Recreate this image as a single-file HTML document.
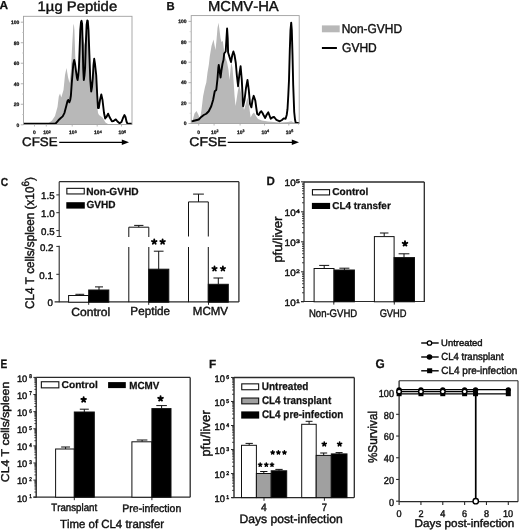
<!DOCTYPE html>
<html><head><meta charset="utf-8"><style>
html,body{margin:0;padding:0;background:#fff;overflow:hidden;}
svg{display:block;will-change:transform;}
text{text-rendering:geometricPrecision;font-kerning:none;font-family:"Liberation Sans", sans-serif;fill:#111;stroke:#111;stroke-width:0.42px;}
text[font-weight=bold]{stroke-width:0.25px;}
</style></head><body>
<svg width="520" height="530" viewBox="0 0 520 530">
<rect width="520" height="530" fill="#fff"/>
<text x="-0.50" y="9.30" font-size="11.63" font-weight="bold" textLength="8.61" lengthAdjust="spacingAndGlyphs" stroke-width="0.4">A</text>
<text x="37.57" y="10.60" font-size="13.95" textLength="79.59" lengthAdjust="spacingAndGlyphs" stroke-width="0.08">1µg Peptide</text>
<polygon points="23.50,124.50 45.00,124.30 48.00,123.50 52.00,120.50 55.00,116.00 57.50,107.00 58.80,96.50 60.00,93.50 61.30,97.50 63.50,90.00 65.00,75.00 66.50,68.00 68.00,77.00 69.50,83.00 70.80,72.00 72.20,45.00 73.30,26.00 73.80,23.70 74.40,30.00 75.20,55.00 76.20,72.00 77.30,80.00 78.50,72.00 79.50,52.00 80.50,35.00 81.50,30.00 82.50,33.00 83.50,40.00 84.50,45.00 85.50,38.00 86.50,32.00 87.50,30.00 88.50,38.00 89.50,55.00 90.30,78.00 91.20,93.00 92.20,88.00 93.20,75.00 94.20,68.00 95.20,72.00 96.20,85.00 97.20,105.00 98.00,113.00 99.00,115.00 100.50,116.00 102.50,117.50 104.00,120.00 105.50,122.50 108.00,124.00 132.00,124.50" fill="#b8b8b8" stroke="none" stroke-width="1" stroke-linejoin="round"/>
<polyline points="23.50,123.80 54.00,123.80 56.00,123.20 58.40,120.30 60.50,118.30 62.70,116.40 64.50,112.80 66.40,105.40 67.50,101.00 68.20,99.90 69.40,102.30 70.20,100.00 70.90,95.50 71.70,84.00 72.50,74.00 73.30,64.00 74.20,60.00 75.10,64.00 76.00,71.00 77.00,78.00 77.60,80.00 78.30,75.00 78.90,68.00 79.60,50.00 80.30,30.00 81.00,22.00 81.50,20.80 82.10,24.00 82.70,45.00 83.20,68.00 83.80,80.00 84.50,75.00 85.10,68.00 85.80,45.00 86.60,25.00 87.30,20.50 87.80,21.00 88.50,30.00 89.40,55.00 90.30,80.00 91.20,91.50 92.00,87.00 92.80,78.00 93.50,65.00 94.20,58.80 95.00,64.00 96.20,75.00 97.20,95.00 98.00,108.00 98.80,108.00 100.00,100.00 101.30,94.40 102.50,100.00 104.00,113.00 105.20,118.50 106.50,117.00 108.10,113.70 109.50,117.00 111.90,121.30 113.50,121.00 115.80,119.40 117.50,121.50 119.60,123.30 121.50,122.00 123.00,118.00 124.40,115.10 125.50,117.00 126.50,121.50 127.30,123.30 129.00,123.80 132.00,123.80" fill="none" stroke="#000" stroke-width="1.9" stroke-linejoin="round"/>
<rect x="23.50" y="16.30" width="108.50" height="108.20" fill="none" stroke="#a0a0a0" stroke-width="0.9"/>
<line x1="20.80" y1="124.80" x2="23.50" y2="124.80" stroke="#a0a0a0" stroke-width="0.8"/>
<text x="19.40" y="126.60" font-size="5.00" text-anchor="end" font-weight="bold" stroke-width="0.3">0</text>
<line x1="22.00" y1="114.54" x2="23.50" y2="114.54" stroke="#c4c4c4" stroke-width="0.7"/>
<line x1="20.80" y1="104.28" x2="23.50" y2="104.28" stroke="#a0a0a0" stroke-width="0.8"/>
<text x="19.40" y="106.08" font-size="5.00" text-anchor="end" font-weight="bold" stroke-width="0.3">20</text>
<line x1="22.00" y1="94.02" x2="23.50" y2="94.02" stroke="#c4c4c4" stroke-width="0.7"/>
<line x1="20.80" y1="83.76" x2="23.50" y2="83.76" stroke="#a0a0a0" stroke-width="0.8"/>
<text x="19.40" y="85.56" font-size="5.00" text-anchor="end" font-weight="bold" stroke-width="0.3">40</text>
<line x1="22.00" y1="73.50" x2="23.50" y2="73.50" stroke="#c4c4c4" stroke-width="0.7"/>
<line x1="20.80" y1="63.24" x2="23.50" y2="63.24" stroke="#a0a0a0" stroke-width="0.8"/>
<text x="19.40" y="65.04" font-size="5.00" text-anchor="end" font-weight="bold" stroke-width="0.3">60</text>
<line x1="22.00" y1="52.98" x2="23.50" y2="52.98" stroke="#c4c4c4" stroke-width="0.7"/>
<line x1="20.80" y1="42.72" x2="23.50" y2="42.72" stroke="#a0a0a0" stroke-width="0.8"/>
<text x="19.40" y="44.52" font-size="5.00" text-anchor="end" font-weight="bold" stroke-width="0.3">80</text>
<line x1="22.00" y1="32.46" x2="23.50" y2="32.46" stroke="#c4c4c4" stroke-width="0.7"/>
<line x1="20.80" y1="22.20" x2="23.50" y2="22.20" stroke="#a0a0a0" stroke-width="0.8"/>
<text x="19.40" y="24.00" font-size="5.00" text-anchor="end" font-weight="bold" stroke-width="0.3">100</text>
<line x1="34.50" y1="124.50" x2="34.50" y2="126.50" stroke="#aaa" stroke-width="0.8"/>
<text x="33.10" y="134.40" font-size="5.00" font-weight="bold" stroke-width="0.3">0</text>
<line x1="46.30" y1="124.50" x2="46.30" y2="126.50" stroke="#aaa" stroke-width="0.8"/>
<text x="43.20" y="134.40" font-size="5.00" font-weight="bold" stroke-width="0.3">10<tspan font-size="3.6" dy="-1.8">2</tspan></text>
<line x1="72.20" y1="124.50" x2="72.20" y2="126.50" stroke="#aaa" stroke-width="0.8"/>
<text x="69.10" y="134.40" font-size="5.00" font-weight="bold" stroke-width="0.3">10<tspan font-size="3.6" dy="-1.8">3</tspan></text>
<line x1="97.20" y1="124.50" x2="97.20" y2="126.50" stroke="#aaa" stroke-width="0.8"/>
<text x="94.10" y="134.40" font-size="5.00" font-weight="bold" stroke-width="0.3">10<tspan font-size="3.6" dy="-1.8">4</tspan></text>
<line x1="121.50" y1="124.50" x2="121.50" y2="126.50" stroke="#aaa" stroke-width="0.8"/>
<text x="118.40" y="134.40" font-size="5.00" font-weight="bold" stroke-width="0.3">10<tspan font-size="3.6" dy="-1.8">5</tspan></text>
<text x="22.13" y="146.20" font-size="12.50" textLength="35.45" lengthAdjust="spacingAndGlyphs" stroke-width="0.2">CFSE</text>
<line x1="59.20" y1="142.30" x2="123.00" y2="142.30" stroke="#000" stroke-width="1.3"/>
<polygon points="121.80,139.60 129.00,142.30 121.80,145.00" fill="#000" stroke="none" stroke-width="1" stroke-linejoin="round"/>
<text x="166.44" y="9.50" font-size="11.63" font-weight="bold" textLength="8.17" lengthAdjust="spacingAndGlyphs" stroke-width="0.4">B</text>
<text x="207.99" y="10.50" font-size="14.39" textLength="70.74" lengthAdjust="spacingAndGlyphs" stroke-width="0.08">MCMV-HA</text>
<polygon points="191.20,123.50 192.50,121.00 194.50,113.50 196.50,111.00 198.50,115.00 200.00,118.70 201.50,110.00 203.10,96.30 205.00,87.00 206.30,82.50 207.50,72.50 208.80,65.00 209.80,56.30 211.50,46.00 213.50,39.50 214.50,45.00 215.50,50.00 216.50,40.00 217.50,28.00 218.50,22.70 219.50,30.00 220.50,38.00 221.50,42.00 222.80,41.00 224.00,50.00 225.50,58.00 227.00,62.00 228.50,70.00 229.50,80.00 230.50,70.00 231.20,62.00 232.50,68.00 233.50,80.00 234.50,95.00 235.50,106.00 236.50,100.00 238.00,90.00 239.40,85.00 240.80,92.00 242.50,103.00 244.00,110.00 245.50,105.00 247.50,97.50 249.00,105.00 250.60,117.50 252.50,114.00 254.00,112.50 256.00,116.00 258.00,119.00 262.00,120.50 268.00,121.50 280.00,122.50 288.00,122.00 291.30,121.30 294.00,122.50 299.20,123.50" fill="#b8b8b8" stroke="none" stroke-width="1" stroke-linejoin="round"/>
<polyline points="191.20,121.40 193.00,121.00 195.00,120.50 198.75,119.50 201.25,116.90 203.75,115.00 206.25,113.75 208.75,111.25 211.25,106.25 213.10,100.00 214.75,91.25 216.25,90.00 217.50,78.75 218.30,68.00 218.75,65.00 219.50,70.00 220.60,77.50 221.50,70.00 222.50,63.75 223.50,60.00 224.20,53.50 225.70,51.50 226.50,38.00 227.10,28.50 227.70,38.00 228.10,52.50 229.50,57.00 231.00,62.00 232.30,55.00 233.40,51.50 234.50,55.00 235.80,63.00 236.80,75.00 238.10,86.25 239.30,75.00 240.60,66.25 241.80,80.00 243.10,106.25 244.50,100.00 246.00,88.00 247.50,80.00 248.80,90.00 250.00,104.00 251.40,107.30 252.50,100.00 253.70,95.80 255.30,100.60 256.30,108.00 257.20,114.00 258.70,115.00 260.00,112.50 261.30,111.20 262.50,113.00 263.50,115.00 265.20,117.90 266.80,114.50 268.30,112.30 269.50,115.50 270.70,118.80 272.30,117.50 274.00,116.90 275.30,118.50 276.40,119.80 279.80,121.30 282.00,120.00 283.70,118.40 285.60,118.80 286.70,115.00 287.50,109.20 288.30,95.00 289.00,80.00 289.80,50.00 290.50,30.00 291.20,22.70 291.80,30.00 292.50,55.00 293.20,85.00 294.20,112.00 295.00,119.50 295.70,122.70 299.20,123.20" fill="none" stroke="#000" stroke-width="1.9" stroke-linejoin="round"/>
<rect x="191.20" y="15.60" width="108.00" height="107.90" fill="none" stroke="#a0a0a0" stroke-width="0.9"/>
<line x1="188.50" y1="123.50" x2="191.20" y2="123.50" stroke="#a0a0a0" stroke-width="0.8"/>
<text x="186.60" y="125.30" font-size="5.00" text-anchor="end" font-weight="bold" stroke-width="0.3">0</text>
<line x1="189.70" y1="113.29" x2="191.20" y2="113.29" stroke="#c4c4c4" stroke-width="0.7"/>
<line x1="188.50" y1="103.08" x2="191.20" y2="103.08" stroke="#a0a0a0" stroke-width="0.8"/>
<text x="186.60" y="104.88" font-size="5.00" text-anchor="end" font-weight="bold" stroke-width="0.3">20</text>
<line x1="189.70" y1="92.87" x2="191.20" y2="92.87" stroke="#c4c4c4" stroke-width="0.7"/>
<line x1="188.50" y1="82.66" x2="191.20" y2="82.66" stroke="#a0a0a0" stroke-width="0.8"/>
<text x="186.60" y="84.46" font-size="5.00" text-anchor="end" font-weight="bold" stroke-width="0.3">40</text>
<line x1="189.70" y1="72.45" x2="191.20" y2="72.45" stroke="#c4c4c4" stroke-width="0.7"/>
<line x1="188.50" y1="62.24" x2="191.20" y2="62.24" stroke="#a0a0a0" stroke-width="0.8"/>
<text x="186.60" y="64.04" font-size="5.00" text-anchor="end" font-weight="bold" stroke-width="0.3">60</text>
<line x1="189.70" y1="52.03" x2="191.20" y2="52.03" stroke="#c4c4c4" stroke-width="0.7"/>
<line x1="188.50" y1="41.82" x2="191.20" y2="41.82" stroke="#a0a0a0" stroke-width="0.8"/>
<text x="186.60" y="43.62" font-size="5.00" text-anchor="end" font-weight="bold" stroke-width="0.3">80</text>
<line x1="189.70" y1="31.61" x2="191.20" y2="31.61" stroke="#c4c4c4" stroke-width="0.7"/>
<line x1="188.50" y1="21.40" x2="191.20" y2="21.40" stroke="#a0a0a0" stroke-width="0.8"/>
<text x="186.60" y="23.20" font-size="5.00" text-anchor="end" font-weight="bold" stroke-width="0.3">100</text>
<line x1="198.70" y1="123.50" x2="198.70" y2="125.50" stroke="#aaa" stroke-width="0.8"/>
<text x="197.30" y="134.00" font-size="5.00" font-weight="bold" stroke-width="0.3">0</text>
<line x1="214.10" y1="123.50" x2="214.10" y2="125.50" stroke="#aaa" stroke-width="0.8"/>
<text x="211.00" y="134.00" font-size="5.00" font-weight="bold" stroke-width="0.3">10<tspan font-size="3.6" dy="-1.8">2</tspan></text>
<line x1="240.10" y1="123.50" x2="240.10" y2="125.50" stroke="#aaa" stroke-width="0.8"/>
<text x="237.00" y="134.00" font-size="5.00" font-weight="bold" stroke-width="0.3">10<tspan font-size="3.6" dy="-1.8">3</tspan></text>
<line x1="264.50" y1="123.50" x2="264.50" y2="125.50" stroke="#aaa" stroke-width="0.8"/>
<text x="261.40" y="134.00" font-size="5.00" font-weight="bold" stroke-width="0.3">10<tspan font-size="3.6" dy="-1.8">4</tspan></text>
<line x1="288.80" y1="123.50" x2="288.80" y2="125.50" stroke="#aaa" stroke-width="0.8"/>
<text x="285.70" y="134.00" font-size="5.00" font-weight="bold" stroke-width="0.3">10<tspan font-size="3.6" dy="-1.8">5</tspan></text>
<text x="189.29" y="145.70" font-size="12.65" textLength="37.31" lengthAdjust="spacingAndGlyphs" stroke-width="0.08">CFSE</text>
<line x1="227.70" y1="142.30" x2="292.50" y2="142.30" stroke="#000" stroke-width="1.3"/>
<polygon points="291.80,139.60 299.00,142.30 291.80,145.00" fill="#000" stroke="none" stroke-width="1" stroke-linejoin="round"/>
<rect x="321.90" y="25.40" width="17.80" height="6.90" fill="#b8b8b8" stroke="none" stroke-width="0"/>
<text x="341.72" y="33.00" font-size="12.79" textLength="60.35" lengthAdjust="spacingAndGlyphs" stroke-width="0.08">Non-GVHD</text>
<line x1="321.90" y1="48.00" x2="336.90" y2="48.00" stroke="#000" stroke-width="2"/>
<text x="342.10" y="51.50" font-size="12.79" textLength="34.68" lengthAdjust="spacingAndGlyphs" stroke-width="0.08">GVHD</text>
<text x="0.68" y="185.60" font-size="11.63" font-weight="bold" textLength="7.40" lengthAdjust="spacingAndGlyphs" stroke-width="0.4">C</text>
<line x1="59.20" y1="181.70" x2="238.90" y2="181.70" stroke="#2a2a2a" stroke-width="1.25"/>
<line x1="238.90" y1="181.70" x2="238.90" y2="302.00" stroke="#2a2a2a" stroke-width="1.3"/>
<line x1="54.60" y1="301.90" x2="238.90" y2="301.90" stroke="#2a2a2a" stroke-width="1.25"/>
<line x1="59.20" y1="181.70" x2="59.20" y2="236.50" stroke="#2a2a2a" stroke-width="1.1"/>
<line x1="59.20" y1="245.80" x2="59.20" y2="302.20" stroke="#2a2a2a" stroke-width="1.1"/>
<line x1="56.80" y1="236.50" x2="61.40" y2="236.50" stroke="#2a2a2a" stroke-width="1"/>
<line x1="56.30" y1="194.90" x2="59.20" y2="194.90" stroke="#2a2a2a" stroke-width="1"/>
<text x="41.12" y="199.20" font-size="9.70" textLength="13.48" lengthAdjust="spacingAndGlyphs" stroke-width="0.36">1.5</text>
<line x1="56.30" y1="212.70" x2="59.20" y2="212.70" stroke="#2a2a2a" stroke-width="1"/>
<text x="41.09" y="217.00" font-size="9.70" textLength="13.48" lengthAdjust="spacingAndGlyphs" stroke-width="0.36">1.0</text>
<line x1="56.30" y1="230.60" x2="59.20" y2="230.60" stroke="#2a2a2a" stroke-width="1"/>
<text x="41.12" y="234.90" font-size="9.70" textLength="13.48" lengthAdjust="spacingAndGlyphs" stroke-width="0.36">0.5</text>
<line x1="56.30" y1="246.40" x2="59.20" y2="246.40" stroke="#2a2a2a" stroke-width="1"/>
<text x="39.90" y="250.70" font-size="9.70" textLength="13.48" lengthAdjust="spacingAndGlyphs" stroke-width="0.36">0.2</text>
<line x1="56.30" y1="274.30" x2="59.20" y2="274.30" stroke="#2a2a2a" stroke-width="1"/>
<text x="39.39" y="278.60" font-size="9.70" textLength="13.48" lengthAdjust="spacingAndGlyphs" stroke-width="0.36">0.1</text>
<text x="47.58" y="306.30" font-size="9.70" textLength="5.39" lengthAdjust="spacingAndGlyphs" stroke-width="0.36">0</text>
<line x1="88.70" y1="302.20" x2="88.70" y2="304.80" stroke="#2a2a2a" stroke-width="1"/>
<line x1="148.70" y1="302.20" x2="148.70" y2="304.80" stroke="#2a2a2a" stroke-width="1"/>
<line x1="208.50" y1="302.20" x2="208.50" y2="304.80" stroke="#2a2a2a" stroke-width="1"/>
<line x1="79.80" y1="295.50" x2="79.80" y2="294.30" stroke="#111" stroke-width="1"/>
<line x1="75.40" y1="294.30" x2="84.20" y2="294.30" stroke="#111" stroke-width="1"/>
<line x1="99.00" y1="290.00" x2="99.00" y2="286.90" stroke="#111" stroke-width="1"/>
<line x1="95.00" y1="286.90" x2="103.00" y2="286.90" stroke="#111" stroke-width="1"/>
<line x1="138.80" y1="227.20" x2="138.80" y2="225.40" stroke="#111" stroke-width="1"/>
<line x1="134.15" y1="225.40" x2="143.45" y2="225.40" stroke="#111" stroke-width="1"/>
<line x1="158.70" y1="269.20" x2="158.70" y2="251.20" stroke="#111" stroke-width="1"/>
<line x1="153.85" y1="251.20" x2="163.55" y2="251.20" stroke="#111" stroke-width="1"/>
<line x1="198.50" y1="201.90" x2="198.50" y2="194.10" stroke="#111" stroke-width="1"/>
<line x1="193.10" y1="194.10" x2="203.90" y2="194.10" stroke="#111" stroke-width="1"/>
<line x1="218.30" y1="284.30" x2="218.30" y2="278.00" stroke="#111" stroke-width="1"/>
<line x1="213.45" y1="278.00" x2="223.15" y2="278.00" stroke="#111" stroke-width="1"/>
<rect x="68.60" y="295.50" width="20.10" height="6.70" fill="#fff" stroke="#111" stroke-width="1"/>
<rect x="88.70" y="290.00" width="20.10" height="12.20" fill="#000" stroke="#111" stroke-width="1"/>
<path d="M128.8,237 V227.2 H148.8 V237 M128.8,247 V302.2 M148.8,247 V302.2" fill="none" stroke="#111" stroke-width="1"/>
<rect x="148.80" y="269.20" width="20.00" height="33.00" fill="#000" stroke="#111" stroke-width="1"/>
<path d="M188.5,236.5 V201.9 H208.3 V236.5 M188.5,247 V302.2 M208.3,247 V302.2" fill="none" stroke="#111" stroke-width="1"/>
<rect x="208.30" y="284.30" width="20.00" height="17.90" fill="#000" stroke="#111" stroke-width="1"/>
<path d="M154.25,241.80L154.25,239.42M154.25,241.80L156.51,241.07M154.25,241.80L155.65,243.72M154.25,241.80L152.85,243.72M154.25,241.80L151.99,241.07" stroke="#000" stroke-width="1.85" stroke-linecap="round" fill="none"/>
<path d="M162.60,241.80L162.60,239.42M162.60,241.80L164.86,241.07M162.60,241.80L164.00,243.72M162.60,241.80L161.20,243.72M162.60,241.80L160.34,241.07" stroke="#000" stroke-width="1.85" stroke-linecap="round" fill="none"/>
<path d="M214.50,268.70L214.50,266.40M214.50,268.70L216.69,267.99M214.50,268.70L215.85,270.56M214.50,268.70L213.15,270.56M214.50,268.70L212.31,267.99" stroke="#000" stroke-width="1.79" stroke-linecap="round" fill="none"/>
<path d="M222.90,268.70L222.90,266.40M222.90,268.70L225.09,267.99M222.90,268.70L224.25,270.56M222.90,268.70L221.55,270.56M222.90,268.70L220.71,267.99" stroke="#000" stroke-width="1.79" stroke-linecap="round" fill="none"/>
<text x="71.29" y="315.60" font-size="11.77" textLength="38.92" lengthAdjust="spacingAndGlyphs" stroke-width="0.2">Control</text>
<text x="130.34" y="315.30" font-size="11.77" textLength="39.68" lengthAdjust="spacingAndGlyphs" stroke-width="0.2">Peptide</text>
<text x="192.86" y="315.30" font-size="11.77" textLength="35.20" lengthAdjust="spacingAndGlyphs" stroke-width="0.2">MCMV</text>
<rect x="66.85" y="188.35" width="17.40" height="5.60" fill="#fff" stroke="#111" stroke-width="1.1"/>
<text x="86.22" y="194.50" font-size="10.32" font-weight="bold" textLength="52.40" lengthAdjust="spacingAndGlyphs" stroke-width="0.25">Non-GVHD</text>
<rect x="66.30" y="202.20" width="18.50" height="6.40" fill="#000" stroke="none" stroke-width="1"/>
<text x="86.49" y="208.30" font-size="10.32" font-weight="bold" textLength="29.03" lengthAdjust="spacingAndGlyphs" stroke-width="0.25">GVHD</text>
<text x="33.5" y="309" font-size="12.5" transform="rotate(-90 33.5 309)" textLength="131.8" lengthAdjust="spacingAndGlyphs">CL4 T cells/spleen (x10<tspan font-size="10.5" dy="-4.2">6</tspan><tspan dy="4.2">)</tspan></text>
<text x="266.53" y="185.40" font-size="11.92" font-weight="bold" textLength="8.36" lengthAdjust="spacingAndGlyphs" stroke-width="0.4">D</text>
<line x1="304.00" y1="182.00" x2="424.30" y2="182.00" stroke="#2a2a2a" stroke-width="1.3"/>
<line x1="424.30" y1="182.00" x2="424.30" y2="302.00" stroke="#2a2a2a" stroke-width="1.3"/>
<line x1="304.00" y1="181.80" x2="304.00" y2="302.00" stroke="#2a2a2a" stroke-width="1.2"/>
<line x1="301.00" y1="301.50" x2="424.30" y2="301.50" stroke="#2a2a2a" stroke-width="1.2"/>
<line x1="301.00" y1="301.80" x2="304.00" y2="301.80" stroke="#2a2a2a" stroke-width="1"/>
<line x1="302.00" y1="292.77" x2="304.00" y2="292.77" stroke="#2a2a2a" stroke-width="0.9"/>
<line x1="302.00" y1="287.49" x2="304.00" y2="287.49" stroke="#2a2a2a" stroke-width="0.9"/>
<line x1="302.00" y1="283.74" x2="304.00" y2="283.74" stroke="#2a2a2a" stroke-width="0.9"/>
<line x1="302.00" y1="280.83" x2="304.00" y2="280.83" stroke="#2a2a2a" stroke-width="0.9"/>
<line x1="302.00" y1="278.46" x2="304.00" y2="278.46" stroke="#2a2a2a" stroke-width="0.9"/>
<line x1="302.00" y1="276.45" x2="304.00" y2="276.45" stroke="#2a2a2a" stroke-width="0.9"/>
<line x1="302.00" y1="274.71" x2="304.00" y2="274.71" stroke="#2a2a2a" stroke-width="0.9"/>
<line x1="302.00" y1="273.17" x2="304.00" y2="273.17" stroke="#2a2a2a" stroke-width="0.9"/>
<line x1="301.00" y1="271.80" x2="304.00" y2="271.80" stroke="#2a2a2a" stroke-width="1"/>
<line x1="302.00" y1="262.77" x2="304.00" y2="262.77" stroke="#2a2a2a" stroke-width="0.9"/>
<line x1="302.00" y1="257.49" x2="304.00" y2="257.49" stroke="#2a2a2a" stroke-width="0.9"/>
<line x1="302.00" y1="253.74" x2="304.00" y2="253.74" stroke="#2a2a2a" stroke-width="0.9"/>
<line x1="302.00" y1="250.83" x2="304.00" y2="250.83" stroke="#2a2a2a" stroke-width="0.9"/>
<line x1="302.00" y1="248.46" x2="304.00" y2="248.46" stroke="#2a2a2a" stroke-width="0.9"/>
<line x1="302.00" y1="246.45" x2="304.00" y2="246.45" stroke="#2a2a2a" stroke-width="0.9"/>
<line x1="302.00" y1="244.71" x2="304.00" y2="244.71" stroke="#2a2a2a" stroke-width="0.9"/>
<line x1="302.00" y1="243.17" x2="304.00" y2="243.17" stroke="#2a2a2a" stroke-width="0.9"/>
<line x1="301.00" y1="241.80" x2="304.00" y2="241.80" stroke="#2a2a2a" stroke-width="1"/>
<line x1="302.00" y1="232.77" x2="304.00" y2="232.77" stroke="#2a2a2a" stroke-width="0.9"/>
<line x1="302.00" y1="227.49" x2="304.00" y2="227.49" stroke="#2a2a2a" stroke-width="0.9"/>
<line x1="302.00" y1="223.74" x2="304.00" y2="223.74" stroke="#2a2a2a" stroke-width="0.9"/>
<line x1="302.00" y1="220.83" x2="304.00" y2="220.83" stroke="#2a2a2a" stroke-width="0.9"/>
<line x1="302.00" y1="218.46" x2="304.00" y2="218.46" stroke="#2a2a2a" stroke-width="0.9"/>
<line x1="302.00" y1="216.45" x2="304.00" y2="216.45" stroke="#2a2a2a" stroke-width="0.9"/>
<line x1="302.00" y1="214.71" x2="304.00" y2="214.71" stroke="#2a2a2a" stroke-width="0.9"/>
<line x1="302.00" y1="213.17" x2="304.00" y2="213.17" stroke="#2a2a2a" stroke-width="0.9"/>
<line x1="301.00" y1="211.80" x2="304.00" y2="211.80" stroke="#2a2a2a" stroke-width="1"/>
<line x1="302.00" y1="202.77" x2="304.00" y2="202.77" stroke="#2a2a2a" stroke-width="0.9"/>
<line x1="302.00" y1="197.49" x2="304.00" y2="197.49" stroke="#2a2a2a" stroke-width="0.9"/>
<line x1="302.00" y1="193.74" x2="304.00" y2="193.74" stroke="#2a2a2a" stroke-width="0.9"/>
<line x1="302.00" y1="190.83" x2="304.00" y2="190.83" stroke="#2a2a2a" stroke-width="0.9"/>
<line x1="302.00" y1="188.46" x2="304.00" y2="188.46" stroke="#2a2a2a" stroke-width="0.9"/>
<line x1="302.00" y1="186.45" x2="304.00" y2="186.45" stroke="#2a2a2a" stroke-width="0.9"/>
<line x1="302.00" y1="184.71" x2="304.00" y2="184.71" stroke="#2a2a2a" stroke-width="0.9"/>
<line x1="302.00" y1="183.17" x2="304.00" y2="183.17" stroke="#2a2a2a" stroke-width="0.9"/>
<line x1="301.00" y1="181.80" x2="304.00" y2="181.80" stroke="#2a2a2a" stroke-width="1"/>
<text x="284.64" y="306.25" font-size="9.40" textLength="11.04" lengthAdjust="spacingAndGlyphs" stroke-width="0.36">10</text>
<text x="295.94" y="302.80" font-size="5.20" textLength="3.84" lengthAdjust="spacingAndGlyphs" stroke-width="0.36">1</text>
<text x="284.64" y="276.25" font-size="9.40" textLength="11.04" lengthAdjust="spacingAndGlyphs" stroke-width="0.36">10</text>
<text x="296.03" y="272.80" font-size="5.20" textLength="3.84" lengthAdjust="spacingAndGlyphs" stroke-width="0.36">2</text>
<text x="284.64" y="246.25" font-size="9.40" textLength="11.04" lengthAdjust="spacingAndGlyphs" stroke-width="0.36">10</text>
<text x="296.05" y="242.80" font-size="5.20" textLength="3.84" lengthAdjust="spacingAndGlyphs" stroke-width="0.36">3</text>
<text x="284.64" y="216.25" font-size="9.40" textLength="11.04" lengthAdjust="spacingAndGlyphs" stroke-width="0.36">10</text>
<text x="296.05" y="212.80" font-size="5.20" textLength="3.84" lengthAdjust="spacingAndGlyphs" stroke-width="0.36">4</text>
<text x="284.64" y="186.25" font-size="9.40" textLength="11.04" lengthAdjust="spacingAndGlyphs" stroke-width="0.36">10</text>
<text x="296.04" y="182.80" font-size="5.20" textLength="3.84" lengthAdjust="spacingAndGlyphs" stroke-width="0.36">5</text>
<line x1="333.80" y1="301.50" x2="333.80" y2="304.60" stroke="#2a2a2a" stroke-width="1"/>
<line x1="394.30" y1="301.50" x2="394.30" y2="304.60" stroke="#2a2a2a" stroke-width="1"/>
<line x1="324.20" y1="268.50" x2="324.20" y2="265.40" stroke="#111" stroke-width="1"/>
<line x1="319.20" y1="265.40" x2="329.20" y2="265.40" stroke="#111" stroke-width="1"/>
<line x1="344.40" y1="270.00" x2="344.40" y2="268.20" stroke="#111" stroke-width="1"/>
<line x1="339.40" y1="268.20" x2="349.40" y2="268.20" stroke="#111" stroke-width="1"/>
<line x1="384.20" y1="236.60" x2="384.20" y2="233.00" stroke="#111" stroke-width="1"/>
<line x1="379.95" y1="233.00" x2="388.45" y2="233.00" stroke="#111" stroke-width="1"/>
<line x1="404.00" y1="257.60" x2="404.00" y2="253.80" stroke="#111" stroke-width="1"/>
<line x1="398.60" y1="253.80" x2="409.40" y2="253.80" stroke="#111" stroke-width="1"/>
<rect x="314.10" y="268.50" width="19.90" height="33.30" fill="#fff" stroke="#111" stroke-width="1"/>
<rect x="334.00" y="270.00" width="20.40" height="31.80" fill="#000" stroke="#111" stroke-width="1"/>
<rect x="374.40" y="236.60" width="19.70" height="65.20" fill="#fff" stroke="#111" stroke-width="1"/>
<rect x="394.10" y="257.60" width="20.40" height="44.20" fill="#000" stroke="#111" stroke-width="1"/>
<path d="M405.00,243.60L405.00,241.15M405.00,243.60L407.33,242.84M405.00,243.60L406.44,245.58M405.00,243.60L403.56,245.58M405.00,243.60L402.67,242.84" stroke="#000" stroke-width="1.90" stroke-linecap="round" fill="none"/>
<text x="308.92" y="316.50" font-size="11.05" textLength="48.34" lengthAdjust="spacingAndGlyphs" stroke-width="0.36">Non-GVHD</text>
<text x="379.63" y="316.50" font-size="11.05" textLength="26.91" lengthAdjust="spacingAndGlyphs" stroke-width="0.36">GVHD</text>
<rect x="312.45" y="189.65" width="17.10" height="5.30" fill="#fff" stroke="#111" stroke-width="1.1"/>
<text x="332.28" y="195.10" font-size="10.03" font-weight="bold" textLength="36.03" lengthAdjust="spacingAndGlyphs" stroke-width="0.25">Control</text>
<rect x="311.90" y="202.90" width="18.20" height="6.10" fill="#000" stroke="none" stroke-width="1"/>
<text x="332.29" y="208.60" font-size="10.03" font-weight="bold" textLength="58.46" lengthAdjust="spacingAndGlyphs" stroke-width="0.25">CL4 transfer</text>
<text x="282.00" y="262.85" font-size="12.80" textLength="46.37" lengthAdjust="spacingAndGlyphs" stroke-width="0.08" transform="rotate(-90 282.00 262.85)">pfu/liver</text>
<text x="0.62" y="367.60" font-size="12.21" font-weight="bold" textLength="6.78" lengthAdjust="spacingAndGlyphs" stroke-width="0.4">E</text>
<line x1="36.20" y1="377.40" x2="190.20" y2="377.40" stroke="#2a2a2a" stroke-width="1.3"/>
<line x1="190.20" y1="377.40" x2="190.20" y2="497.30" stroke="#2a2a2a" stroke-width="1.3"/>
<line x1="36.20" y1="377.40" x2="36.20" y2="497.40" stroke="#2a2a2a" stroke-width="1.4"/>
<line x1="33.40" y1="497.20" x2="190.20" y2="497.20" stroke="#2a2a2a" stroke-width="1.3"/>
<line x1="33.40" y1="497.20" x2="36.20" y2="497.20" stroke="#2a2a2a" stroke-width="1"/>
<line x1="34.40" y1="492.05" x2="36.20" y2="492.05" stroke="#2a2a2a" stroke-width="0.9"/>
<line x1="34.40" y1="489.03" x2="36.20" y2="489.03" stroke="#2a2a2a" stroke-width="0.9"/>
<line x1="34.40" y1="486.90" x2="36.20" y2="486.90" stroke="#2a2a2a" stroke-width="0.9"/>
<line x1="34.40" y1="485.24" x2="36.20" y2="485.24" stroke="#2a2a2a" stroke-width="0.9"/>
<line x1="34.40" y1="483.88" x2="36.20" y2="483.88" stroke="#2a2a2a" stroke-width="0.9"/>
<line x1="34.40" y1="482.74" x2="36.20" y2="482.74" stroke="#2a2a2a" stroke-width="0.9"/>
<line x1="34.40" y1="481.74" x2="36.20" y2="481.74" stroke="#2a2a2a" stroke-width="0.9"/>
<line x1="34.40" y1="480.87" x2="36.20" y2="480.87" stroke="#2a2a2a" stroke-width="0.9"/>
<line x1="33.40" y1="480.09" x2="36.20" y2="480.09" stroke="#2a2a2a" stroke-width="1"/>
<line x1="34.40" y1="474.93" x2="36.20" y2="474.93" stroke="#2a2a2a" stroke-width="0.9"/>
<line x1="34.40" y1="471.92" x2="36.20" y2="471.92" stroke="#2a2a2a" stroke-width="0.9"/>
<line x1="34.40" y1="469.78" x2="36.20" y2="469.78" stroke="#2a2a2a" stroke-width="0.9"/>
<line x1="34.40" y1="468.12" x2="36.20" y2="468.12" stroke="#2a2a2a" stroke-width="0.9"/>
<line x1="34.40" y1="466.77" x2="36.20" y2="466.77" stroke="#2a2a2a" stroke-width="0.9"/>
<line x1="34.40" y1="465.62" x2="36.20" y2="465.62" stroke="#2a2a2a" stroke-width="0.9"/>
<line x1="34.40" y1="464.63" x2="36.20" y2="464.63" stroke="#2a2a2a" stroke-width="0.9"/>
<line x1="34.40" y1="463.75" x2="36.20" y2="463.75" stroke="#2a2a2a" stroke-width="0.9"/>
<line x1="33.40" y1="462.97" x2="36.20" y2="462.97" stroke="#2a2a2a" stroke-width="1"/>
<line x1="34.40" y1="457.82" x2="36.20" y2="457.82" stroke="#2a2a2a" stroke-width="0.9"/>
<line x1="34.40" y1="454.81" x2="36.20" y2="454.81" stroke="#2a2a2a" stroke-width="0.9"/>
<line x1="34.40" y1="452.67" x2="36.20" y2="452.67" stroke="#2a2a2a" stroke-width="0.9"/>
<line x1="34.40" y1="451.01" x2="36.20" y2="451.01" stroke="#2a2a2a" stroke-width="0.9"/>
<line x1="34.40" y1="449.65" x2="36.20" y2="449.65" stroke="#2a2a2a" stroke-width="0.9"/>
<line x1="34.40" y1="448.51" x2="36.20" y2="448.51" stroke="#2a2a2a" stroke-width="0.9"/>
<line x1="34.40" y1="447.52" x2="36.20" y2="447.52" stroke="#2a2a2a" stroke-width="0.9"/>
<line x1="34.40" y1="446.64" x2="36.20" y2="446.64" stroke="#2a2a2a" stroke-width="0.9"/>
<line x1="33.40" y1="445.86" x2="36.20" y2="445.86" stroke="#2a2a2a" stroke-width="1"/>
<line x1="34.40" y1="440.71" x2="36.20" y2="440.71" stroke="#2a2a2a" stroke-width="0.9"/>
<line x1="34.40" y1="437.69" x2="36.20" y2="437.69" stroke="#2a2a2a" stroke-width="0.9"/>
<line x1="34.40" y1="435.55" x2="36.20" y2="435.55" stroke="#2a2a2a" stroke-width="0.9"/>
<line x1="34.40" y1="433.89" x2="36.20" y2="433.89" stroke="#2a2a2a" stroke-width="0.9"/>
<line x1="34.40" y1="432.54" x2="36.20" y2="432.54" stroke="#2a2a2a" stroke-width="0.9"/>
<line x1="34.40" y1="431.39" x2="36.20" y2="431.39" stroke="#2a2a2a" stroke-width="0.9"/>
<line x1="34.40" y1="430.40" x2="36.20" y2="430.40" stroke="#2a2a2a" stroke-width="0.9"/>
<line x1="34.40" y1="429.53" x2="36.20" y2="429.53" stroke="#2a2a2a" stroke-width="0.9"/>
<line x1="33.40" y1="428.74" x2="36.20" y2="428.74" stroke="#2a2a2a" stroke-width="1"/>
<line x1="34.40" y1="423.59" x2="36.20" y2="423.59" stroke="#2a2a2a" stroke-width="0.9"/>
<line x1="34.40" y1="420.58" x2="36.20" y2="420.58" stroke="#2a2a2a" stroke-width="0.9"/>
<line x1="34.40" y1="418.44" x2="36.20" y2="418.44" stroke="#2a2a2a" stroke-width="0.9"/>
<line x1="34.40" y1="416.78" x2="36.20" y2="416.78" stroke="#2a2a2a" stroke-width="0.9"/>
<line x1="34.40" y1="415.43" x2="36.20" y2="415.43" stroke="#2a2a2a" stroke-width="0.9"/>
<line x1="34.40" y1="414.28" x2="36.20" y2="414.28" stroke="#2a2a2a" stroke-width="0.9"/>
<line x1="34.40" y1="413.29" x2="36.20" y2="413.29" stroke="#2a2a2a" stroke-width="0.9"/>
<line x1="34.40" y1="412.41" x2="36.20" y2="412.41" stroke="#2a2a2a" stroke-width="0.9"/>
<line x1="33.40" y1="411.63" x2="36.20" y2="411.63" stroke="#2a2a2a" stroke-width="1"/>
<line x1="34.40" y1="406.48" x2="36.20" y2="406.48" stroke="#2a2a2a" stroke-width="0.9"/>
<line x1="34.40" y1="403.46" x2="36.20" y2="403.46" stroke="#2a2a2a" stroke-width="0.9"/>
<line x1="34.40" y1="401.32" x2="36.20" y2="401.32" stroke="#2a2a2a" stroke-width="0.9"/>
<line x1="34.40" y1="399.67" x2="36.20" y2="399.67" stroke="#2a2a2a" stroke-width="0.9"/>
<line x1="34.40" y1="398.31" x2="36.20" y2="398.31" stroke="#2a2a2a" stroke-width="0.9"/>
<line x1="34.40" y1="397.17" x2="36.20" y2="397.17" stroke="#2a2a2a" stroke-width="0.9"/>
<line x1="34.40" y1="396.17" x2="36.20" y2="396.17" stroke="#2a2a2a" stroke-width="0.9"/>
<line x1="34.40" y1="395.30" x2="36.20" y2="395.30" stroke="#2a2a2a" stroke-width="0.9"/>
<line x1="33.40" y1="394.51" x2="36.20" y2="394.51" stroke="#2a2a2a" stroke-width="1"/>
<line x1="34.40" y1="389.36" x2="36.20" y2="389.36" stroke="#2a2a2a" stroke-width="0.9"/>
<line x1="34.40" y1="386.35" x2="36.20" y2="386.35" stroke="#2a2a2a" stroke-width="0.9"/>
<line x1="34.40" y1="384.21" x2="36.20" y2="384.21" stroke="#2a2a2a" stroke-width="0.9"/>
<line x1="34.40" y1="382.55" x2="36.20" y2="382.55" stroke="#2a2a2a" stroke-width="0.9"/>
<line x1="34.40" y1="381.20" x2="36.20" y2="381.20" stroke="#2a2a2a" stroke-width="0.9"/>
<line x1="34.40" y1="380.05" x2="36.20" y2="380.05" stroke="#2a2a2a" stroke-width="0.9"/>
<line x1="34.40" y1="379.06" x2="36.20" y2="379.06" stroke="#2a2a2a" stroke-width="0.9"/>
<line x1="34.40" y1="378.18" x2="36.20" y2="378.18" stroke="#2a2a2a" stroke-width="0.9"/>
<line x1="33.40" y1="377.40" x2="36.20" y2="377.40" stroke="#2a2a2a" stroke-width="1"/>
<text x="16.89" y="501.50" font-size="9.40" textLength="10.37" lengthAdjust="spacingAndGlyphs" stroke-width="0.36">10</text>
<text x="29.16" y="498.10" font-size="5.40" textLength="2.56" lengthAdjust="spacingAndGlyphs" stroke-width="0.36">1</text>
<text x="16.89" y="484.39" font-size="9.40" textLength="10.37" lengthAdjust="spacingAndGlyphs" stroke-width="0.36">10</text>
<text x="29.22" y="480.99" font-size="5.40" textLength="2.56" lengthAdjust="spacingAndGlyphs" stroke-width="0.36">2</text>
<text x="16.89" y="467.27" font-size="9.40" textLength="10.37" lengthAdjust="spacingAndGlyphs" stroke-width="0.36">10</text>
<text x="29.23" y="463.87" font-size="5.40" textLength="2.56" lengthAdjust="spacingAndGlyphs" stroke-width="0.36">3</text>
<text x="16.89" y="450.16" font-size="9.40" textLength="10.37" lengthAdjust="spacingAndGlyphs" stroke-width="0.36">10</text>
<text x="29.23" y="446.76" font-size="5.40" textLength="2.56" lengthAdjust="spacingAndGlyphs" stroke-width="0.36">4</text>
<text x="16.89" y="433.04" font-size="9.40" textLength="10.37" lengthAdjust="spacingAndGlyphs" stroke-width="0.36">10</text>
<text x="29.22" y="429.64" font-size="5.40" textLength="2.56" lengthAdjust="spacingAndGlyphs" stroke-width="0.36">5</text>
<text x="16.89" y="415.93" font-size="9.40" textLength="10.37" lengthAdjust="spacingAndGlyphs" stroke-width="0.36">10</text>
<text x="29.20" y="412.53" font-size="5.40" textLength="2.56" lengthAdjust="spacingAndGlyphs" stroke-width="0.36">6</text>
<text x="16.89" y="398.81" font-size="9.40" textLength="10.37" lengthAdjust="spacingAndGlyphs" stroke-width="0.36">10</text>
<text x="29.22" y="395.41" font-size="5.40" textLength="2.56" lengthAdjust="spacingAndGlyphs" stroke-width="0.36">7</text>
<text x="16.89" y="381.70" font-size="9.40" textLength="10.37" lengthAdjust="spacingAndGlyphs" stroke-width="0.36">10</text>
<text x="29.22" y="378.30" font-size="5.40" textLength="2.56" lengthAdjust="spacingAndGlyphs" stroke-width="0.36">8</text>
<line x1="74.30" y1="497.20" x2="74.30" y2="500.20" stroke="#2a2a2a" stroke-width="1"/>
<line x1="151.90" y1="497.20" x2="151.90" y2="500.20" stroke="#2a2a2a" stroke-width="1"/>
<line x1="65.60" y1="449.00" x2="65.60" y2="447.00" stroke="#111" stroke-width="1"/>
<line x1="61.15" y1="447.00" x2="70.05" y2="447.00" stroke="#111" stroke-width="1"/>
<line x1="84.30" y1="412.00" x2="84.30" y2="409.20" stroke="#111" stroke-width="1"/>
<line x1="79.80" y1="409.20" x2="88.80" y2="409.20" stroke="#111" stroke-width="1"/>
<line x1="142.10" y1="441.80" x2="142.10" y2="440.00" stroke="#111" stroke-width="1"/>
<line x1="136.80" y1="440.00" x2="147.40" y2="440.00" stroke="#111" stroke-width="1"/>
<line x1="161.60" y1="408.60" x2="161.60" y2="405.60" stroke="#111" stroke-width="1"/>
<line x1="156.30" y1="405.60" x2="166.90" y2="405.60" stroke="#111" stroke-width="1"/>
<rect x="55.60" y="449.00" width="18.70" height="48.20" fill="#fff" stroke="#111" stroke-width="1"/>
<rect x="74.30" y="412.00" width="20.00" height="85.20" fill="#000" stroke="#111" stroke-width="1"/>
<rect x="131.90" y="441.80" width="20.00" height="55.40" fill="#fff" stroke="#111" stroke-width="1"/>
<rect x="151.90" y="408.60" width="19.10" height="88.60" fill="#000" stroke="#111" stroke-width="1"/>
<path d="M83.65,399.70L83.65,397.25M83.65,399.70L85.98,398.94M83.65,399.70L85.09,401.68M83.65,399.70L82.21,401.68M83.65,399.70L81.32,398.94" stroke="#000" stroke-width="1.90" stroke-linecap="round" fill="none"/>
<path d="M160.55,398.60L160.55,396.15M160.55,398.60L162.88,397.84M160.55,398.60L161.99,400.58M160.55,398.60L159.11,400.58M160.55,398.60L158.22,397.84" stroke="#000" stroke-width="1.90" stroke-linecap="round" fill="none"/>
<text x="51.28" y="511.30" font-size="10.61" textLength="45.89" lengthAdjust="spacingAndGlyphs" stroke-width="0.36">Transplant</text>
<text x="122.34" y="511.70" font-size="10.76" textLength="58.94" lengthAdjust="spacingAndGlyphs" stroke-width="0.36">Pre-infection</text>
<text x="59.94" y="527.90" font-size="11.77" textLength="104.25" lengthAdjust="spacingAndGlyphs" stroke-width="0.15">Time of CL4 transfer</text>
<rect x="41.35" y="381.75" width="17.50" height="6.10" fill="#fff" stroke="#111" stroke-width="1.1"/>
<text x="61.58" y="388.30" font-size="9.88" font-weight="bold" textLength="36.14" lengthAdjust="spacingAndGlyphs" stroke-width="0.25">Control</text>
<rect x="108.10" y="382.10" width="17.70" height="6.00" fill="#000" stroke="none" stroke-width="1"/>
<text x="129.24" y="388.50" font-size="10.32" font-weight="bold" textLength="30.02" lengthAdjust="spacingAndGlyphs" stroke-width="0.25">MCMV</text>
<text x="9.20" y="482.12" font-size="11.30" textLength="100.31" lengthAdjust="spacingAndGlyphs" stroke-width="0.2" transform="rotate(-90 9.20 482.12)">CL4 T cells/spleen</text>
<text x="209.11" y="367.80" font-size="11.77" font-weight="bold" textLength="7.22" lengthAdjust="spacingAndGlyphs" stroke-width="0.4">F</text>
<line x1="234.00" y1="377.50" x2="354.30" y2="377.50" stroke="#2a2a2a" stroke-width="1.3"/>
<line x1="354.30" y1="377.50" x2="354.30" y2="497.70" stroke="#2a2a2a" stroke-width="1.3"/>
<line x1="234.00" y1="377.50" x2="234.00" y2="497.80" stroke="#2a2a2a" stroke-width="1.4"/>
<line x1="231.50" y1="497.60" x2="354.00" y2="497.60" stroke="#2a2a2a" stroke-width="1.2"/>
<line x1="231.00" y1="497.60" x2="234.00" y2="497.60" stroke="#2a2a2a" stroke-width="1"/>
<line x1="232.10" y1="490.37" x2="234.00" y2="490.37" stroke="#2a2a2a" stroke-width="0.9"/>
<line x1="232.10" y1="486.13" x2="234.00" y2="486.13" stroke="#2a2a2a" stroke-width="0.9"/>
<line x1="232.10" y1="483.13" x2="234.00" y2="483.13" stroke="#2a2a2a" stroke-width="0.9"/>
<line x1="232.10" y1="480.80" x2="234.00" y2="480.80" stroke="#2a2a2a" stroke-width="0.9"/>
<line x1="232.10" y1="478.90" x2="234.00" y2="478.90" stroke="#2a2a2a" stroke-width="0.9"/>
<line x1="232.10" y1="477.29" x2="234.00" y2="477.29" stroke="#2a2a2a" stroke-width="0.9"/>
<line x1="232.10" y1="475.90" x2="234.00" y2="475.90" stroke="#2a2a2a" stroke-width="0.9"/>
<line x1="232.10" y1="474.67" x2="234.00" y2="474.67" stroke="#2a2a2a" stroke-width="0.9"/>
<line x1="231.00" y1="473.57" x2="234.00" y2="473.57" stroke="#2a2a2a" stroke-width="1"/>
<line x1="232.10" y1="466.34" x2="234.00" y2="466.34" stroke="#2a2a2a" stroke-width="0.9"/>
<line x1="232.10" y1="462.10" x2="234.00" y2="462.10" stroke="#2a2a2a" stroke-width="0.9"/>
<line x1="232.10" y1="459.10" x2="234.00" y2="459.10" stroke="#2a2a2a" stroke-width="0.9"/>
<line x1="232.10" y1="456.77" x2="234.00" y2="456.77" stroke="#2a2a2a" stroke-width="0.9"/>
<line x1="232.10" y1="454.87" x2="234.00" y2="454.87" stroke="#2a2a2a" stroke-width="0.9"/>
<line x1="232.10" y1="453.26" x2="234.00" y2="453.26" stroke="#2a2a2a" stroke-width="0.9"/>
<line x1="232.10" y1="451.87" x2="234.00" y2="451.87" stroke="#2a2a2a" stroke-width="0.9"/>
<line x1="232.10" y1="450.64" x2="234.00" y2="450.64" stroke="#2a2a2a" stroke-width="0.9"/>
<line x1="231.00" y1="449.54" x2="234.00" y2="449.54" stroke="#2a2a2a" stroke-width="1"/>
<line x1="232.10" y1="442.31" x2="234.00" y2="442.31" stroke="#2a2a2a" stroke-width="0.9"/>
<line x1="232.10" y1="438.07" x2="234.00" y2="438.07" stroke="#2a2a2a" stroke-width="0.9"/>
<line x1="232.10" y1="435.07" x2="234.00" y2="435.07" stroke="#2a2a2a" stroke-width="0.9"/>
<line x1="232.10" y1="432.74" x2="234.00" y2="432.74" stroke="#2a2a2a" stroke-width="0.9"/>
<line x1="232.10" y1="430.84" x2="234.00" y2="430.84" stroke="#2a2a2a" stroke-width="0.9"/>
<line x1="232.10" y1="429.23" x2="234.00" y2="429.23" stroke="#2a2a2a" stroke-width="0.9"/>
<line x1="232.10" y1="427.84" x2="234.00" y2="427.84" stroke="#2a2a2a" stroke-width="0.9"/>
<line x1="232.10" y1="426.61" x2="234.00" y2="426.61" stroke="#2a2a2a" stroke-width="0.9"/>
<line x1="231.00" y1="425.51" x2="234.00" y2="425.51" stroke="#2a2a2a" stroke-width="1"/>
<line x1="232.10" y1="418.28" x2="234.00" y2="418.28" stroke="#2a2a2a" stroke-width="0.9"/>
<line x1="232.10" y1="414.04" x2="234.00" y2="414.04" stroke="#2a2a2a" stroke-width="0.9"/>
<line x1="232.10" y1="411.04" x2="234.00" y2="411.04" stroke="#2a2a2a" stroke-width="0.9"/>
<line x1="232.10" y1="408.71" x2="234.00" y2="408.71" stroke="#2a2a2a" stroke-width="0.9"/>
<line x1="232.10" y1="406.81" x2="234.00" y2="406.81" stroke="#2a2a2a" stroke-width="0.9"/>
<line x1="232.10" y1="405.20" x2="234.00" y2="405.20" stroke="#2a2a2a" stroke-width="0.9"/>
<line x1="232.10" y1="403.81" x2="234.00" y2="403.81" stroke="#2a2a2a" stroke-width="0.9"/>
<line x1="232.10" y1="402.58" x2="234.00" y2="402.58" stroke="#2a2a2a" stroke-width="0.9"/>
<line x1="231.00" y1="401.48" x2="234.00" y2="401.48" stroke="#2a2a2a" stroke-width="1"/>
<line x1="232.10" y1="394.25" x2="234.00" y2="394.25" stroke="#2a2a2a" stroke-width="0.9"/>
<line x1="232.10" y1="390.01" x2="234.00" y2="390.01" stroke="#2a2a2a" stroke-width="0.9"/>
<line x1="232.10" y1="387.01" x2="234.00" y2="387.01" stroke="#2a2a2a" stroke-width="0.9"/>
<line x1="232.10" y1="384.68" x2="234.00" y2="384.68" stroke="#2a2a2a" stroke-width="0.9"/>
<line x1="232.10" y1="382.78" x2="234.00" y2="382.78" stroke="#2a2a2a" stroke-width="0.9"/>
<line x1="232.10" y1="381.17" x2="234.00" y2="381.17" stroke="#2a2a2a" stroke-width="0.9"/>
<line x1="232.10" y1="379.78" x2="234.00" y2="379.78" stroke="#2a2a2a" stroke-width="0.9"/>
<line x1="232.10" y1="378.55" x2="234.00" y2="378.55" stroke="#2a2a2a" stroke-width="0.9"/>
<line x1="231.00" y1="377.45" x2="234.00" y2="377.45" stroke="#2a2a2a" stroke-width="1"/>
<text x="214.59" y="502.10" font-size="9.60" textLength="10.37" lengthAdjust="spacingAndGlyphs" stroke-width="0.36">10</text>
<text x="226.22" y="498.70" font-size="5.60" textLength="2.91" lengthAdjust="spacingAndGlyphs" stroke-width="0.36">1</text>
<text x="214.59" y="478.07" font-size="9.60" textLength="10.37" lengthAdjust="spacingAndGlyphs" stroke-width="0.36">10</text>
<text x="226.30" y="474.67" font-size="5.60" textLength="2.91" lengthAdjust="spacingAndGlyphs" stroke-width="0.36">2</text>
<text x="214.59" y="454.04" font-size="9.60" textLength="10.37" lengthAdjust="spacingAndGlyphs" stroke-width="0.36">10</text>
<text x="226.31" y="450.64" font-size="5.60" textLength="2.91" lengthAdjust="spacingAndGlyphs" stroke-width="0.36">3</text>
<text x="214.59" y="430.01" font-size="9.60" textLength="10.37" lengthAdjust="spacingAndGlyphs" stroke-width="0.36">10</text>
<text x="226.31" y="426.61" font-size="5.60" textLength="2.91" lengthAdjust="spacingAndGlyphs" stroke-width="0.36">4</text>
<text x="214.59" y="405.98" font-size="9.60" textLength="10.37" lengthAdjust="spacingAndGlyphs" stroke-width="0.36">10</text>
<text x="226.30" y="402.58" font-size="5.60" textLength="2.91" lengthAdjust="spacingAndGlyphs" stroke-width="0.36">5</text>
<text x="214.59" y="381.95" font-size="9.60" textLength="10.37" lengthAdjust="spacingAndGlyphs" stroke-width="0.36">10</text>
<text x="226.28" y="378.55" font-size="5.60" textLength="2.91" lengthAdjust="spacingAndGlyphs" stroke-width="0.36">6</text>
<line x1="264.00" y1="497.60" x2="264.00" y2="500.80" stroke="#2a2a2a" stroke-width="1"/>
<line x1="324.40" y1="497.60" x2="324.40" y2="500.80" stroke="#2a2a2a" stroke-width="1"/>
<line x1="249.20" y1="445.30" x2="249.20" y2="443.40" stroke="#111" stroke-width="1"/>
<line x1="245.55" y1="443.40" x2="252.85" y2="443.40" stroke="#111" stroke-width="1"/>
<line x1="263.80" y1="473.50" x2="263.80" y2="471.50" stroke="#111" stroke-width="1"/>
<line x1="260.15" y1="471.50" x2="267.45" y2="471.50" stroke="#111" stroke-width="1"/>
<line x1="279.00" y1="470.80" x2="279.00" y2="469.40" stroke="#111" stroke-width="1"/>
<line x1="275.35" y1="469.40" x2="282.65" y2="469.40" stroke="#111" stroke-width="1"/>
<line x1="309.10" y1="424.30" x2="309.10" y2="421.30" stroke="#111" stroke-width="1"/>
<line x1="305.65" y1="421.30" x2="312.55" y2="421.30" stroke="#111" stroke-width="1"/>
<line x1="323.70" y1="455.40" x2="323.70" y2="453.00" stroke="#111" stroke-width="1"/>
<line x1="320.20" y1="453.00" x2="327.20" y2="453.00" stroke="#111" stroke-width="1"/>
<line x1="339.10" y1="453.90" x2="339.10" y2="452.60" stroke="#111" stroke-width="1"/>
<line x1="335.60" y1="452.60" x2="342.60" y2="452.60" stroke="#111" stroke-width="1"/>
<rect x="241.50" y="445.30" width="14.90" height="52.30" fill="#fff" stroke="#111" stroke-width="1"/>
<rect x="256.40" y="473.50" width="14.80" height="24.10" fill="#a0a0a0" stroke="#111" stroke-width="1"/>
<rect x="271.20" y="470.80" width="15.50" height="26.80" fill="#000" stroke="#111" stroke-width="1"/>
<rect x="301.70" y="424.30" width="14.50" height="73.30" fill="#fff" stroke="#111" stroke-width="1"/>
<rect x="316.20" y="455.40" width="15.10" height="42.20" fill="#a0a0a0" stroke="#111" stroke-width="1"/>
<rect x="331.30" y="453.90" width="15.70" height="43.70" fill="#000" stroke="#111" stroke-width="1"/>
<path d="M260.20,464.75L260.20,462.91M260.20,464.75L261.95,464.18M260.20,464.75L261.28,466.24M260.20,464.75L259.12,466.24M260.20,464.75L258.45,464.18" stroke="#000" stroke-width="1.43" stroke-linecap="round" fill="none"/>
<path d="M266.30,464.75L266.30,462.91M266.30,464.75L268.05,464.18M266.30,464.75L267.38,466.24M266.30,464.75L265.22,466.24M266.30,464.75L264.55,464.18" stroke="#000" stroke-width="1.43" stroke-linecap="round" fill="none"/>
<path d="M272.00,464.75L272.00,462.91M272.00,464.75L273.75,464.18M272.00,464.75L273.08,466.24M272.00,464.75L270.92,466.24M272.00,464.75L270.25,464.18" stroke="#000" stroke-width="1.43" stroke-linecap="round" fill="none"/>
<path d="M272.70,452.55L272.70,450.71M272.70,452.55L274.45,451.98M272.70,452.55L273.78,454.04M272.70,452.55L271.62,454.04M272.70,452.55L270.95,451.98" stroke="#000" stroke-width="1.43" stroke-linecap="round" fill="none"/>
<path d="M278.40,452.55L278.40,450.71M278.40,452.55L280.15,451.98M278.40,452.55L279.48,454.04M278.40,452.55L277.32,454.04M278.40,452.55L276.65,451.98" stroke="#000" stroke-width="1.43" stroke-linecap="round" fill="none"/>
<path d="M284.45,452.55L284.45,450.71M284.45,452.55L286.20,451.98M284.45,452.55L285.53,454.04M284.45,452.55L283.37,454.04M284.45,452.55L282.70,451.98" stroke="#000" stroke-width="1.43" stroke-linecap="round" fill="none"/>
<path d="M324.25,444.10L324.25,442.01M324.25,444.10L326.24,443.45M324.25,444.10L325.48,445.79M324.25,444.10L323.02,445.79M324.25,444.10L322.26,443.45" stroke="#000" stroke-width="1.62" stroke-linecap="round" fill="none"/>
<path d="M339.60,444.10L339.60,442.01M339.60,444.10L341.59,443.45M339.60,444.10L340.83,445.79M339.60,444.10L338.37,445.79M339.60,444.10L337.61,443.45" stroke="#000" stroke-width="1.62" stroke-linecap="round" fill="none"/>
<text x="260.96" y="511.30" font-size="10.61" textLength="5.74" lengthAdjust="spacingAndGlyphs" stroke-width="0.36">4</text>
<text x="321.82" y="511.30" font-size="10.61" textLength="5.26" lengthAdjust="spacingAndGlyphs" stroke-width="0.36">7</text>
<text x="239.50" y="522.70" font-size="12.06" textLength="103.18" lengthAdjust="spacingAndGlyphs" stroke-width="0.15">Days post-infection</text>
<rect x="241.75" y="383.85" width="16.90" height="5.90" fill="#fff" stroke="#111" stroke-width="1.1"/>
<text x="261.70" y="390.30" font-size="11.05" font-weight="bold" textLength="46.76" lengthAdjust="spacingAndGlyphs" stroke-width="0.25">Untreated</text>
<rect x="241.75" y="398.05" width="16.90" height="5.80" fill="#a0a0a0" stroke="#111" stroke-width="1.1"/>
<text x="261.89" y="403.80" font-size="11.05" font-weight="bold" textLength="69.33" lengthAdjust="spacingAndGlyphs" stroke-width="0.25">CL4 transplant</text>
<rect x="241.20" y="411.40" width="18.00" height="7.20" fill="#000" stroke="none" stroke-width="1"/>
<text x="261.89" y="418.20" font-size="11.05" font-weight="bold" textLength="81.42" lengthAdjust="spacingAndGlyphs" stroke-width="0.25">CL4 pre-infection</text>
<text x="210.00" y="456.76" font-size="13.00" textLength="46.48" lengthAdjust="spacingAndGlyphs" stroke-width="0.08" transform="rotate(-90 210.00 456.76)">pfu/liver</text>
<text x="375.41" y="367.60" font-size="12.65" font-weight="bold" textLength="9.22" lengthAdjust="spacingAndGlyphs" stroke-width="0.4">G</text>
<line x1="399.10" y1="380.80" x2="518.00" y2="380.80" stroke="#2a2a2a" stroke-width="1.1"/>
<line x1="518.00" y1="380.80" x2="518.00" y2="501.70" stroke="#2a2a2a" stroke-width="1.1"/>
<line x1="399.10" y1="380.80" x2="399.10" y2="501.70" stroke="#2a2a2a" stroke-width="1.3"/>
<line x1="399.10" y1="501.70" x2="518.00" y2="501.70" stroke="#2a2a2a" stroke-width="1.3"/>
<line x1="396.10" y1="501.20" x2="399.10" y2="501.20" stroke="#2a2a2a" stroke-width="1.1"/>
<text x="388.95" y="505.50" font-size="10.20" textLength="5.11" lengthAdjust="spacingAndGlyphs" stroke-width="0.22">0</text>
<line x1="396.10" y1="479.48" x2="399.10" y2="479.48" stroke="#2a2a2a" stroke-width="1.1"/>
<text x="383.85" y="483.78" font-size="10.20" textLength="10.21" lengthAdjust="spacingAndGlyphs" stroke-width="0.22">20</text>
<line x1="396.10" y1="457.76" x2="399.10" y2="457.76" stroke="#2a2a2a" stroke-width="1.1"/>
<text x="383.85" y="462.06" font-size="10.20" textLength="10.21" lengthAdjust="spacingAndGlyphs" stroke-width="0.22">40</text>
<line x1="396.10" y1="436.04" x2="399.10" y2="436.04" stroke="#2a2a2a" stroke-width="1.1"/>
<text x="383.85" y="440.34" font-size="10.20" textLength="10.21" lengthAdjust="spacingAndGlyphs" stroke-width="0.22">60</text>
<line x1="396.10" y1="414.32" x2="399.10" y2="414.32" stroke="#2a2a2a" stroke-width="1.1"/>
<text x="383.85" y="418.62" font-size="10.20" textLength="10.21" lengthAdjust="spacingAndGlyphs" stroke-width="0.22">80</text>
<line x1="396.10" y1="392.60" x2="399.10" y2="392.60" stroke="#2a2a2a" stroke-width="1.1"/>
<text x="378.74" y="396.90" font-size="10.20" textLength="15.32" lengthAdjust="spacingAndGlyphs" stroke-width="0.22">100</text>
<line x1="399.10" y1="501.70" x2="399.10" y2="505.00" stroke="#2a2a2a" stroke-width="1.1"/>
<text x="396.57" y="516.60" font-size="9.80" textLength="5.07" lengthAdjust="spacingAndGlyphs" stroke-width="0.22">0</text>
<line x1="420.94" y1="501.70" x2="420.94" y2="505.00" stroke="#2a2a2a" stroke-width="1.1"/>
<text x="418.41" y="516.60" font-size="9.80" textLength="5.07" lengthAdjust="spacingAndGlyphs" stroke-width="0.22">2</text>
<line x1="442.78" y1="501.70" x2="442.78" y2="505.00" stroke="#2a2a2a" stroke-width="1.1"/>
<text x="440.27" y="516.60" font-size="9.80" textLength="5.07" lengthAdjust="spacingAndGlyphs" stroke-width="0.22">4</text>
<line x1="464.62" y1="501.70" x2="464.62" y2="505.00" stroke="#2a2a2a" stroke-width="1.1"/>
<text x="462.05" y="516.60" font-size="9.80" textLength="5.07" lengthAdjust="spacingAndGlyphs" stroke-width="0.22">6</text>
<line x1="486.46" y1="501.70" x2="486.46" y2="505.00" stroke="#2a2a2a" stroke-width="1.1"/>
<text x="483.93" y="516.60" font-size="9.80" textLength="5.07" lengthAdjust="spacingAndGlyphs" stroke-width="0.22">8</text>
<line x1="508.30" y1="501.70" x2="508.30" y2="505.00" stroke="#2a2a2a" stroke-width="1.1"/>
<text x="503.06" y="516.60" font-size="9.80" textLength="10.14" lengthAdjust="spacingAndGlyphs" stroke-width="0.22">10</text>
<text x="414.64" y="526.70" font-size="11.19" textLength="99.72" lengthAdjust="spacingAndGlyphs" stroke-width="0.1">Days post-infection</text>
<text x="377.00" y="463.12" font-size="12.70" textLength="52.20" lengthAdjust="spacingAndGlyphs" stroke-width="0.08" transform="rotate(-90 377.00 463.12)">%Survival</text>
<line x1="399.10" y1="389.70" x2="508.30" y2="389.70" stroke="#000" stroke-width="1.3"/>
<line x1="399.10" y1="393.90" x2="508.30" y2="393.90" stroke="#000" stroke-width="1.3"/>
<line x1="399.10" y1="391.60" x2="475.54" y2="391.60" stroke="#000" stroke-width="1.3"/>
<line x1="475.74" y1="391.60" x2="475.74" y2="499.00" stroke="#000" stroke-width="1.7"/>
<rect x="396.60" y="391.4" width="5.0" height="4.8" fill="#000"/>
<circle cx="399.10" cy="389.9" r="2.7" fill="#000"/>
<rect x="418.44" y="391.4" width="5.0" height="4.8" fill="#000"/>
<circle cx="420.94" cy="389.9" r="2.7" fill="#000"/>
<rect x="440.28" y="391.4" width="5.0" height="4.8" fill="#000"/>
<circle cx="442.78" cy="389.9" r="2.7" fill="#000"/>
<rect x="462.12" y="391.4" width="5.0" height="4.8" fill="#000"/>
<circle cx="464.62" cy="389.9" r="2.7" fill="#000"/>
<rect x="473.04" y="391.4" width="5.0" height="4.8" fill="#000"/>
<circle cx="475.54" cy="389.9" r="2.7" fill="#000"/>
<rect x="505.80" y="391.4" width="5.0" height="4.8" fill="#000"/>
<circle cx="508.30" cy="389.9" r="2.7" fill="#000"/>
<circle cx="399.10" cy="391.5" r="2.3" fill="#fff" stroke="#000" stroke-width="1.4"/>
<circle cx="420.94" cy="391.5" r="2.3" fill="#fff" stroke="#000" stroke-width="1.4"/>
<circle cx="442.78" cy="391.5" r="2.3" fill="#fff" stroke="#000" stroke-width="1.4"/>
<circle cx="464.62" cy="391.5" r="2.3" fill="#fff" stroke="#000" stroke-width="1.4"/>
<circle cx="475.74" cy="501.2" r="2.7" fill="#fff" stroke="#000" stroke-width="1.4"/>
<line x1="421.20" y1="343.00" x2="438.70" y2="343.00" stroke="#000" stroke-width="1.4"/>
<circle cx="429.5" cy="343.0" r="2.2" fill="#fff" stroke="#000" stroke-width="1.3"/>
<text x="441.07" y="346.00" font-size="9.30" textLength="41.54" lengthAdjust="spacingAndGlyphs" stroke-width="0.36">Untreated</text>
<line x1="421.20" y1="357.00" x2="438.70" y2="357.00" stroke="#000" stroke-width="1.4"/>
<circle cx="429.5" cy="357.0" r="2.8" fill="#000"/>
<text x="441.31" y="360.40" font-size="10.32" textLength="62.26" lengthAdjust="spacingAndGlyphs" stroke-width="0.36">CL4 transplant</text>
<line x1="421.20" y1="370.80" x2="438.70" y2="370.80" stroke="#000" stroke-width="1.4"/>
<rect x="427.1" y="368.3" width="5.1" height="4.9" fill="#000"/>
<text x="441.29" y="374.40" font-size="10.47" textLength="75.95" lengthAdjust="spacingAndGlyphs" stroke-width="0.36">CL4 pre-infection</text>
</svg></body></html>
